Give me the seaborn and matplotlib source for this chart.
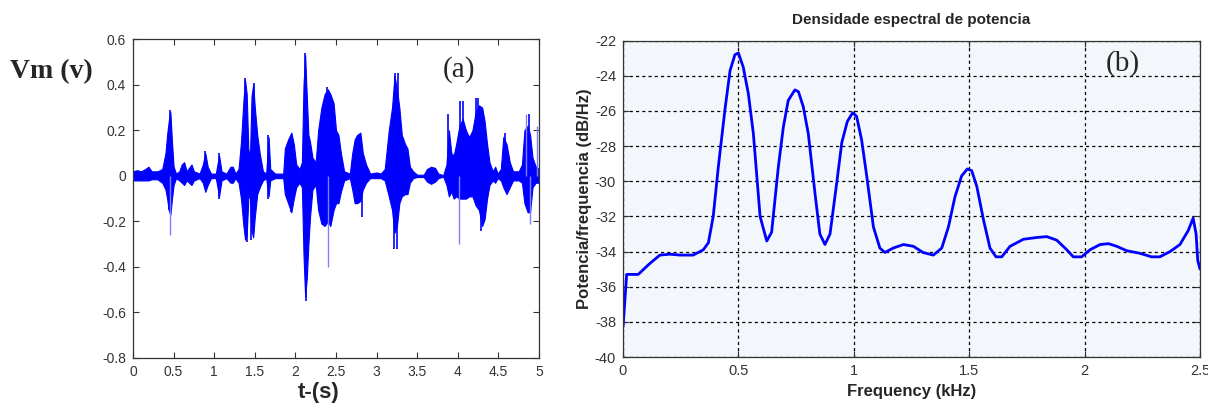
import numpy as np
import pandas as pd
import matplotlib
matplotlib.use("Agg")
import matplotlib.pyplot as plt
import seaborn as sns

# --- panel (a): speech waveform, read as upper / lower envelope ---
t_env = [0.00, 0.05, 0.10, 0.15, 0.19, 0.23, 0.30, 0.36, 0.40, 0.42, 0.44, 0.46, 0.48, 0.50,
         0.53, 0.57, 0.60, 0.63, 0.66, 0.72, 0.75, 0.82, 0.86, 0.89, 0.92, 0.96, 1.02, 1.06,
         1.09, 1.15, 1.20, 1.23, 1.26, 1.30, 1.33, 1.36, 1.38, 1.40, 1.42, 1.44, 1.46, 1.48,
         1.50, 1.53, 1.56, 1.60, 1.64, 1.67, 1.69, 1.75, 1.85, 1.87, 1.91, 1.95, 1.98, 2.01,
         2.05, 2.08, 2.10, 2.12, 2.14, 2.16, 2.18, 2.21, 2.25, 2.28, 2.32, 2.36, 2.40, 2.43,
         2.47, 2.50, 2.53, 2.56, 2.60, 2.67, 2.70, 2.73, 2.76, 2.80, 2.83, 2.87, 2.92, 3.00,
         3.05, 3.10, 3.15, 3.19, 3.22, 3.25, 3.28, 3.31, 3.35, 3.38, 3.41, 3.45, 3.50, 3.58,
         3.62, 3.67, 3.72, 3.76, 3.82, 3.86, 3.89, 3.92, 3.95, 3.98, 4.02, 4.06, 4.10, 4.14,
         4.18, 4.22, 4.26, 4.30, 4.33, 4.36, 4.39, 4.43, 4.46, 4.49, 4.53, 4.56, 4.60, 4.64,
         4.68, 4.75, 4.79, 4.82, 4.86, 4.89, 4.92, 4.96, 5.00]
v_upper = [0.02, 0.025, 0.02, 0.03, 0.04, 0.02, 0.02, 0.03, 0.10, 0.18, 0.24, 0.28, 0.15, 0.04,
           0.01, 0.02, 0.05, 0.06, 0.02, 0.05, 0.02, 0.01, 0.05, 0.10, 0.04, 0.01, 0.01, 0.09,
           0.02, 0.01, 0.04, 0.04, 0.01, 0.03, 0.15, 0.33, 0.42, 0.36, 0.12, 0.08, 0.35, 0.40,
           0.30, 0.18, 0.10, 0.02, 0.01, 0.17, 0.03, 0.01, 0.01, 0.12, 0.16, 0.19, 0.14, 0.05,
           0.03, 0.06, 0.40, 0.53, 0.35, 0.18, 0.15, 0.08, 0.06, 0.20, 0.30, 0.36, 0.38, 0.36,
           0.32, 0.20, 0.18, 0.10, 0.02, 0.01, 0.10, 0.16, 0.18, 0.19, 0.10, 0.05, 0.01, 0.015,
           0.01, 0.03, 0.20, 0.30, 0.44, 0.38, 0.30, 0.18, 0.14, 0.12, 0.04, 0.02, 0.005, 0.005,
           0.03, 0.04, 0.035, 0.01, 0.003, 0.05, 0.20, 0.10, 0.09, 0.14, 0.22, 0.25, 0.20, 0.17,
           0.20, 0.28, 0.31, 0.30, 0.24, 0.14, 0.06, 0.02, 0.04, 0.01, 0.03, 0.17, 0.14, 0.06,
           0.02, 0.02, 0.05, 0.20, 0.22, 0.18, 0.08, 0.04, 0.03]
v_lower = [-0.02, -0.02, -0.02, -0.02, -0.02, -0.015, -0.015, -0.03, -0.06, -0.10, -0.15, -0.17, -0.10, -0.04,
           -0.01, -0.02, -0.03, -0.04, -0.02, -0.04, -0.02, -0.01, -0.03, -0.07, -0.04, -0.01, -0.01, -0.09,
           -0.02, -0.01, -0.03, -0.03, -0.01, -0.03, -0.10, -0.22, -0.28, -0.26, -0.10, -0.08, -0.24, -0.27,
           -0.18, -0.08, -0.05, -0.02, -0.01, -0.09, -0.02, -0.01, -0.01, -0.08, -0.12, -0.16, -0.10, -0.05,
           -0.03, -0.05, -0.35, -0.53, -0.45, -0.30, -0.18, -0.06, -0.04, -0.15, -0.21, -0.22, -0.20, -0.22,
           -0.15, -0.12, -0.12, -0.07, -0.02, -0.01, -0.06, -0.12, -0.12, -0.11, -0.06, -0.03, -0.01, -0.01,
           -0.01, -0.02, -0.09, -0.15, -0.25, -0.22, -0.12, -0.09, -0.08, -0.08, -0.03, -0.01, -0.005, -0.005,
           -0.025, -0.035, -0.025, -0.01, -0.003, -0.04, -0.09, -0.07, -0.10, -0.09, -0.10, -0.10, -0.10, -0.09,
           -0.09, -0.13, -0.15, -0.22, -0.19, -0.10, -0.04, -0.02, -0.03, -0.01, -0.02, -0.05, -0.08, -0.05,
           -0.02, -0.02, -0.03, -0.12, -0.16, -0.16, -0.05, -0.03, -0.03]

# isolated spikes sticking out of the envelope (time, value)
spike_t = [0.445, 0.455, 0.89, 1.06, 1.06, 1.375, 1.405, 1.455, 1.49, 1.667, 1.667, 1.94,
           2.115, 2.125, 2.39, 3.215, 3.23, 3.25, 3.26, 3.885, 4.03, 4.07, 4.22, 4.245,
           4.29, 4.58, 4.88, 2.82]
spike_v = [-0.15, 0.29, 0.11, 0.10, -0.10, 0.43, -0.29, -0.28, 0.41, 0.18, -0.10, -0.16,
           0.54, -0.55, 0.39, -0.32, 0.45, -0.32, 0.45, 0.27, 0.33, 0.33, 0.34, 0.34,
           -0.24, 0.19, 0.27, -0.18]
light_t = [0.46, 2.405, 4.02, 4.84, 4.89, 4.97]
light_v = [-0.26, -0.40, -0.30, 0.27, -0.21, 0.22]

# --- panel (b): power spectral density ---
freq_khz = [0.0, 0.004, 0.016, 0.066, 0.117, 0.16, 0.204, 0.247, 0.304, 0.348, 0.37, 0.391,
            0.413, 0.442, 0.464, 0.485, 0.5, 0.521, 0.543, 0.565, 0.594, 0.623, 0.644, 0.673,
            0.695, 0.716, 0.745, 0.76, 0.781, 0.803, 0.832, 0.853, 0.875, 0.897, 0.926, 0.948,
            0.972, 0.995, 1.012, 1.034, 1.056, 1.085, 1.113, 1.135, 1.171, 1.215, 1.258, 1.301,
            1.345, 1.381, 1.41, 1.438, 1.467, 1.492, 1.511, 1.533, 1.562, 1.59, 1.616, 1.641,
            1.677, 1.735, 1.792, 1.836, 1.879, 1.923, 1.951, 1.987, 2.023, 2.067, 2.103, 2.139,
            2.182, 2.24, 2.29, 2.326, 2.37, 2.413, 2.449, 2.47, 2.483, 2.49, 2.5]
psd_db = [-38.3, -37.6, -35.3, -35.3, -34.67, -34.2, -34.15, -34.2, -34.2, -33.9, -33.5, -32.0,
          -29.2, -25.9, -23.7, -22.8, -22.7, -23.5, -25.0, -27.3, -32.0, -33.4, -32.9, -29.2,
          -26.9, -25.4, -24.8, -24.9, -25.75, -27.3, -30.7, -33.0, -33.6, -33.0, -30.1, -27.8,
          -26.6, -26.1, -26.3, -27.65, -29.7, -32.6, -33.8, -34.05, -33.8, -33.6, -33.7, -34.06,
          -34.2, -33.8, -32.6, -30.9, -29.7, -29.3, -29.4, -30.3, -32.2, -33.8, -34.3, -34.3,
          -33.7, -33.3, -33.2, -33.15, -33.35, -33.9, -34.3, -34.3, -33.9, -33.6, -33.55, -33.7,
          -33.95, -34.1, -34.3, -34.3, -34.0, -33.6, -32.8, -32.1, -33.0, -34.5, -35.0]

sns.set_style("ticks")
plt.rcParams['font.family'] = ['Liberation Sans', 'DejaVu Sans']
plt.rcParams['axes.unicode_minus'] = False

fig = plt.figure(figsize=(12.08, 4.03), dpi=100)
ax1 = fig.add_axes([0.1101, 0.1117, 0.3361, 0.7908])
ax2 = fig.add_axes([0.5157, 0.1141, 0.4777, 0.785])

blue = '#0000ff'

# waveform
ax1.fill_between(t_env, v_lower, v_upper, color=blue, lw=0.8, edgecolor=blue)
ax1.vlines(spike_t, 0, spike_v, color=blue, lw=1.2)
ax1.vlines(light_t, 0, light_v, color='#8080ff', lw=1.0)
ax1.set_xlim(0, 5)
ax1.set_ylim(-0.8, 0.6)
ax1.set_xticks(np.arange(0, 5.01, 0.5))
ax1.set_xticklabels(['0', '0.5', '1', '1.5', '2', '2.5', '3', '3.5', '4', '4.5', '5'])
ax1.set_yticks(np.arange(-0.8, 0.61, 0.2))
ax1.set_yticklabels(['-0.8', '-0.6', '-0.4', '-0.2', '0', '0.2', '0.4', '0.6'])
ax1.set_xlabel('t-(s)', fontsize=16, fontweight='bold')
ax1.xaxis.set_label_coords(0.458, -0.075)
ax1.text(3.82, 0.468, '(a)', fontsize=21, family='Liberation Serif', va='center')

fig.text(0.008, 0.822, 'Vm (v)', fontsize=20, fontweight='bold', family='Liberation Serif', va='center')

# PSD
df_psd = pd.DataFrame({'f': freq_khz, 'p': psd_db})
sns.lineplot(data=df_psd, x='f', y='p', ax=ax2, color=blue, lw=2)
ax2.set_facecolor('#f3f7fc')
ax2.set_xlim(0, 2.5)
ax2.set_ylim(-40, -22)
ax2.set_xticks([0, 0.5, 1, 1.5, 2, 2.5])
ax2.set_xticklabels(['0', '0.5', '1', '1.5', '2', '2.5'])
ax2.set_yticks(np.arange(-40, -21, 2))
ax2.grid(True, color='black', linestyle=(0, (2.5, 2.5)), lw=0.9)
ax2.set_axisbelow(True)
ax2.set_title('Densidade espectral de potencia', fontsize=11, fontweight='bold', pad=12)
ax2.set_xlabel('Frequency (kHz)', fontsize=12, fontweight='bold', labelpad=4)
ax2.set_ylabel('Potencia/frequencia (dB/Hz)', fontsize=12, fontweight='bold', labelpad=2)
ax2.text(2.09, -23.3, '(b)', fontsize=21, family='Liberation Serif', va='center')

for ax, fs in ((ax1, 10), (ax2, 10.5)):
    ax.tick_params(direction='in', top=True, right=True, labelsize=fs, colors='#333333',
                   length=4, width=0.8, pad=5)
    for s in ax.spines.values():
        s.set_visible(True)
        s.set_color('#333333')
        s.set_linewidth(0.9)

fig.savefig('out.png', dpi=100)
